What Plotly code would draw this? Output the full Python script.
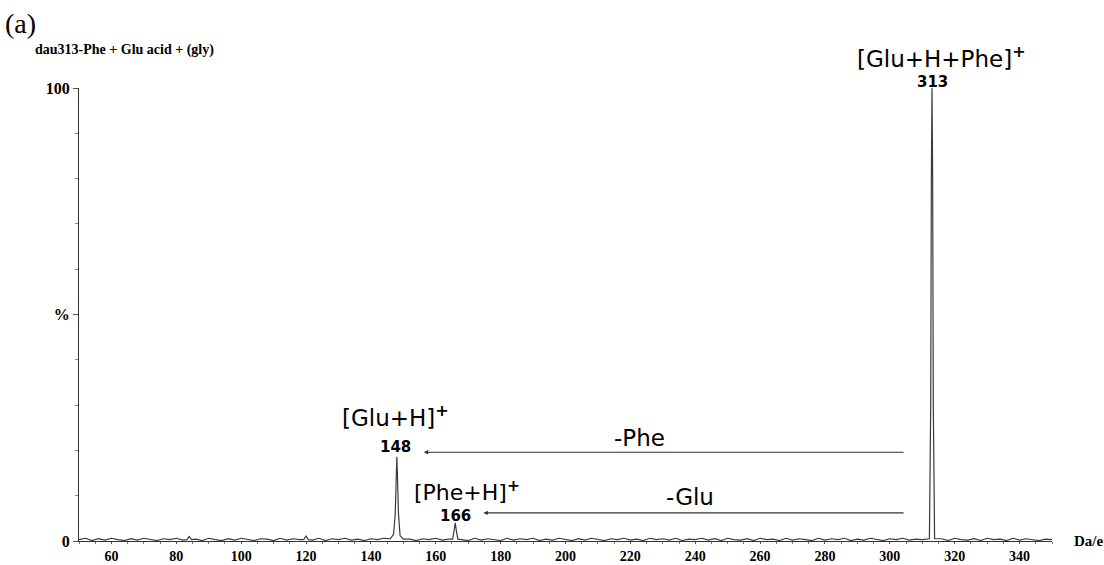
import plotly.graph_objects as go

# ---- data ----
baseline_mz = [50, 52, 54, 56, 58, 60, 62, 64, 66, 68, 70, 72, 74, 76, 78, 80, 82, 86, 88, 90,
               92, 94, 96, 98, 100, 102, 104, 106, 108, 110, 112, 114, 116, 118, 122, 124,
               126, 128, 130, 132, 134, 136, 138, 140, 142, 144, 152, 154, 156, 158, 160,
               162, 164, 168, 170, 172, 174, 176, 178, 180, 182, 184, 186, 188, 190, 192,
               194, 196, 198, 200, 202, 204, 206, 208, 210, 212, 214, 216, 218, 220, 222,
               224, 226, 228, 230, 232, 234, 236, 238, 240, 242, 244, 246, 248, 250, 252,
               254, 256, 258, 260, 262, 264, 266, 268, 270, 272, 274, 276, 278, 280, 282,
               284, 286, 288, 290, 292, 294, 296, 298, 300, 302, 304, 306, 308, 310, 316,
               318, 320, 322, 324, 326, 328, 330, 332, 334, 336, 338, 340, 342, 344, 346,
               348, 350]
baseline_int = [0.3, 0.6, 0.1, 0.5, 0.2, 0.6, 0.3, 0.1, 0.5, 0.2, 0.6, 0.3, 0.1, 0.5, 0.3,
                0.6, 0.2, 0.4, 0.1, 0.6, 0.3, 0.1, 0.5, 0.2, 0.6, 0.3, 0.1, 0.5, 0.4, 0.1,
                0.6, 0.2, 0.5, 0.3, 0.2, 0.6, 0.1, 0.5, 0.3, 0.6, 0.2, 0.4, 0.1, 0.5, 0.3,
                0.6, 0.4, 0.1, 0.5, 0.3, 0.6, 0.2, 0.4, 0.3, 0.1, 0.6, 0.2, 0.5, 0.3, 0.1,
                0.6, 0.2, 0.5, 0.3, 0.6, 0.1, 0.4, 0.2, 0.6, 0.3, 0.1, 0.5, 0.2, 0.6, 0.3,
                0.1, 0.5, 0.3, 0.6, 0.2, 0.4, 0.1, 0.6, 0.3, 0.5, 0.2, 0.6, 0.1, 0.4, 0.3,
                0.6, 0.2, 0.5, 0.1, 0.6, 0.3, 0.2, 0.5, 0.1, 0.6, 0.3, 0.4, 0.1, 0.6, 0.2,
                0.5, 0.3, 0.1, 0.6, 0.2, 0.5, 0.3, 0.6, 0.1, 0.4, 0.2, 0.6, 0.3, 0.1, 0.5,
                0.3, 0.6, 0.2, 0.4, 0.3, 0.5, 0.1, 0.6, 0.3, 0.2, 0.5, 0.1, 0.6, 0.3, 0.4,
                0.1, 0.6, 0.2, 0.5, 0.3, 0.1, 0.4, 0.3]
peak_mz = [83.3, 84.0, 84.7, 119.3, 120.0, 120.7,
           146.0, 147.0, 147.5, 147.8, 148.0, 148.2, 148.5, 149.0, 150.0,
           165.2, 165.7, 166.0, 166.3, 166.8,
           312.2, 312.6, 312.8, 313.0, 313.2, 313.4, 313.8]
peak_int = [0.3, 1.0, 0.3, 0.3, 1.1, 0.3,
            0.5, 1.5, 6.0, 14.0, 18.6, 14.0, 6.0, 1.2, 0.4,
            0.4, 2.5, 4.0, 2.5, 0.4,
            0.5, 30.0, 80.0, 100.0, 80.0, 30.0, 0.5]

x_ticks = [60, 80, 100, 120, 140, 160, 180, 200, 220, 240, 260, 280, 300, 320, 340]
y_tickvals = [0, 50, 100]
y_ticktext = ["0", "%", "100"]

pts = sorted(zip(baseline_mz + peak_mz, baseline_int + peak_int))
mz = [p[0] for p in pts]
inten = [p[1] for p in pts]

fig = go.Figure()
fig.add_trace(go.Scatter(x=mz, y=inten, mode="lines",
                         line=dict(color="#3a3a3a", width=1.2), hoverinfo="skip"))

serif = "Liberation Serif"
sans = "DejaVu Sans"

fig.update_layout(
    width=1104, height=565,
    margin=dict(l=79, r=52, t=88, b=24),
    paper_bgcolor="white", plot_bgcolor="white",
    showlegend=False,
    xaxis=dict(range=[50, 350], tickvals=x_ticks, showgrid=False, zeroline=False,
               automargin=False,
               showline=True, linecolor="#333333", linewidth=1,
               ticks="outside", ticklen=2, tickcolor="#555555",
               minor=dict(dtick=5, ticks="outside", ticklen=2, tickcolor="#777777"),
               tickfont=dict(family=serif, size=14, color="black", weight="bold")),
    yaxis=dict(range=[0, 100], tickvals=y_tickvals, ticktext=y_ticktext,
               showgrid=False, zeroline=False, automargin=False,
               showline=True, linecolor="#333333", linewidth=1,
               ticks="outside", ticklen=5, tickcolor="#555555",
               minor=dict(tick0=0, dtick=10, ticks="outside", ticklen=3, tickcolor="#888888"),
               tickfont=dict(family=serif, size=16, color="black", weight="bold")),
)

anns = []
# figure labels
anns.append(dict(xref="paper", yref="paper", x=-76/973, y=1+64/453, xanchor="left", yanchor="middle",
                 text="(a)", showarrow=False, font=dict(family=serif, size=28, color="black")))
anns.append(dict(xref="paper", yref="paper", x=-46/973, y=1+38/453, xanchor="left", yanchor="middle",
                 text="<b>dau313-Phe + Glu acid + (gly)</b>", showarrow=False,
                 font=dict(family=serif, size=14, color="black")))
anns.append(dict(xref="paper", yref="paper", x=1+20/973, y=0, xanchor="left", yanchor="middle",
                 text="<b>Da/e</b>", showarrow=False, font=dict(family=serif, size=15, color="black")))

# peak labels
def lab(x, y, text, size, bold=False, yref="y"):
    t = f"<b>{text}</b>" if bold else text
    anns.append(dict(xref="x", yref=yref, x=x, y=y, text=t, showarrow=False,
                     xanchor="center", yanchor="middle",
                     font=dict(family=sans, size=size, color="black")))

lab(316.0, 1.068, "[Glu+H+Phe]<sup><b>+</b></sup>", 23, yref="paper")
lab(313.0, 1.013, "313", 15, True, yref="paper")
lab(147.5, 27.6, "[Glu+H]<sup><b>+</b></sup>", 23)
lab(147.7, 20.8, "148", 15, True)
lab(169.5, 11.0, "[Phe+H]<sup><b>+</b></sup>", 22)
lab(166.0, 5.6, "166", 15, True)
lab(222.7, 22.8, "-Phe", 23)
lab(238.3, 9.7, "-Glu", 23)

# arrows
for head_x, yv in [(156.3, 19.6), (174.7, 6.2)]:
    anns.append(dict(xref="x", yref="y", axref="x", ayref="y",
                     x=head_x, y=yv, ax=304.7, ay=yv, text="", showarrow=True,
                     arrowhead=2, arrowsize=0.8, arrowwidth=1.1, arrowcolor="#333333"))

fig.update_layout(annotations=anns)
fig.write_html("out.html")
